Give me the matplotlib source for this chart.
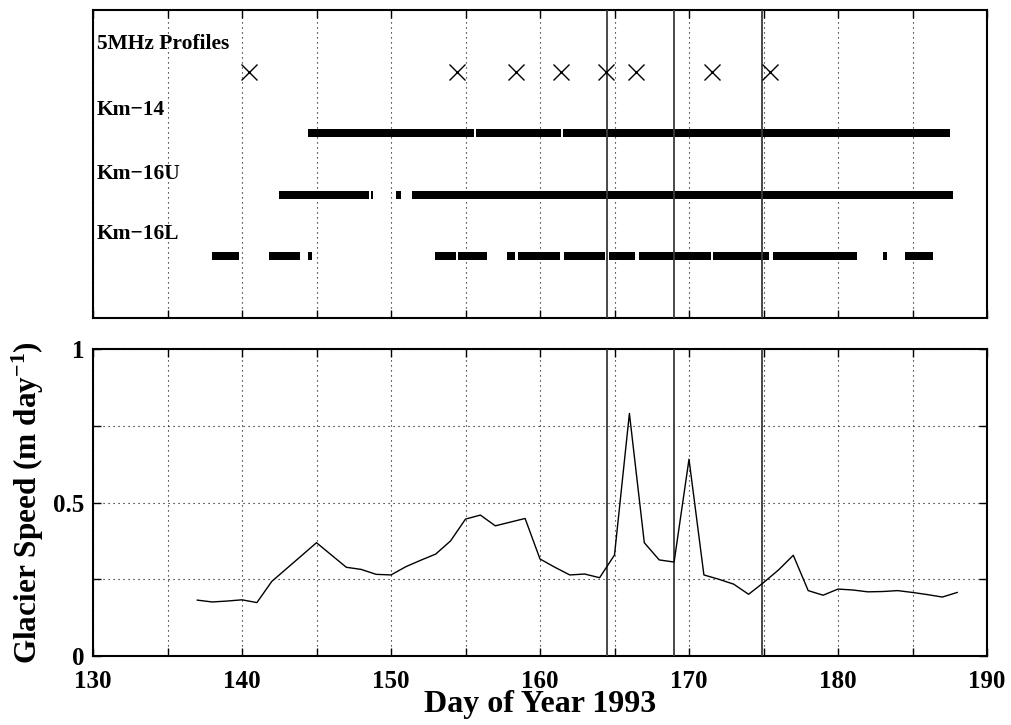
import matplotlib
matplotlib.use("Agg")
import matplotlib.pyplot as plt
import numpy as np

plt.rcParams['font.family'] = ['Liberation Serif', 'DejaVu Serif']
plt.rcParams['font.weight'] = 'bold'
plt.rcParams['mathtext.fontset'] = 'custom'
plt.rcParams['mathtext.rm'] = 'Liberation Serif:bold'
plt.rcParams['mathtext.it'] = 'Liberation Serif:bold'
plt.rcParams['mathtext.bf'] = 'Liberation Serif:bold'
plt.rcParams['mathtext.default'] = 'rm'

# ---------------- data ----------------
profile_days = [140.45, 154.45, 158.4, 161.4, 164.4, 166.45, 171.55, 175.45]

km14_segments = [(144.45, 155.6), (155.7, 161.4), (161.55, 187.5)]
km16u_segments = [(142.45, 148.55), (148.68, 148.78), (150.35, 150.7), (151.4, 187.7)]
km16l_segments = [(138.0, 139.78), (141.8, 143.88), (144.4, 144.73), (152.95, 154.33),
                  (154.5, 156.46), (157.8, 158.3), (158.55, 161.35), (161.62, 164.37),
                  (164.64, 166.39), (166.65, 171.49), (171.62, 175.4), (175.63, 181.29),
                  (183.0, 183.3), (184.5, 186.37)]

row_labels = ['5MHz Profiles', 'Km\u221214', 'Km\u221216U', 'Km\u221216L']

event_days = [164.49, 169.02, 174.93]

speed_days = list(range(137, 189))
speed = [0.182, 0.176, 0.179, 0.183, 0.174, 0.243, 0.285, 0.327, 0.369, 0.329,
         0.289, 0.282, 0.266, 0.264, 0.291, 0.312, 0.332, 0.375, 0.446, 0.459,
         0.424, 0.436, 0.448, 0.316, 0.289, 0.264, 0.267, 0.255, 0.329, 0.790,
         0.369, 0.313, 0.306, 0.641, 0.264, 0.250, 0.234, 0.201, 0.239, 0.280,
         0.328, 0.213, 0.198, 0.218, 0.215, 0.209, 0.210, 0.213, 0.207, 0.200,
         0.192, 0.207]

xticks = list(range(130, 191, 5))
xticklabels = [str(t) if t % 10 == 0 else '' for t in xticks]
yticks = [0, 0.25, 0.5, 0.75, 1]
yticklabels = ['0', '', '0.5', '', '1']

# ---------------- figure ----------------
W, H = 1011, 725
fig = plt.figure(figsize=(W / 100, H / 100), dpi=100)

def px_axes(l, t, r, b):
    return fig.add_axes([l / W, 1 - b / H, (r - l) / W, (b - t) / H])

ax1 = px_axes(93, 10, 987, 318)
ax2 = px_axes(93, 349, 987, 656)

grid_kw = dict(color='black', linestyle=(0, (1, 3.5)), linewidth=0.8)

for ax in (ax1, ax2):
    ax.set_xlim(130, 190)
    ax.set_xticks(xticks)
    ax.tick_params(direction='in', length=6, width=1.0, top=True, right=True,
                   labelsize=18)
    ax.tick_params(axis='x', pad=10)
    ax.tick_params(axis='y', pad=6)
    for s in ax.spines.values():
        s.set_linewidth(1.5)
    ax.grid(True, axis='x', **grid_kw)
    for d in event_days:
        ax.axvline(d, color='#3a3a3a', linewidth=1.3, zorder=3)

# ---- top panel ----
ax1.set_ylim(5, 0)
ax1.set_yticks([])
ax1.set_xticklabels([])
ax1.plot(profile_days, [1] * len(profile_days), linestyle='none', marker='x',
         markersize=11, markeredgewidth=1.0, color='black', zorder=4)
bar_h = 0.13
for row, segs in zip([2, 3, 4], [km14_segments, km16u_segments, km16l_segments]):
    ax1.broken_barh([(a, b - a) for a, b in segs], (row - bar_h / 2, bar_h),
                    facecolors='black', edgecolors='none', zorder=2)
label_y = [0.55, 1.63, 2.66, 3.63]
for txt, y in zip(row_labels, label_y):
    ax1.text(130.27, y, txt, fontsize=15.5, fontweight='bold', va='center', ha='left')

# ---- bottom panel ----
ax2.set_ylim(0, 1)
ax2.set_yticks(yticks)
ax2.set_yticklabels(yticklabels)
ax2.set_xticklabels(xticklabels)
ax2.grid(True, axis='y', **grid_kw)
ax2.plot(speed_days, speed, color='black', linewidth=1.0, zorder=4)
ax2.set_xlabel('Day of Year 1993', fontsize=23, fontweight='bold', labelpad=-2)
ax2.set_ylabel('Glacier Speed (m day$^{-1}$)', fontsize=22.5, fontweight='bold', labelpad=5)

fig.savefig('out.png', dpi=100)
